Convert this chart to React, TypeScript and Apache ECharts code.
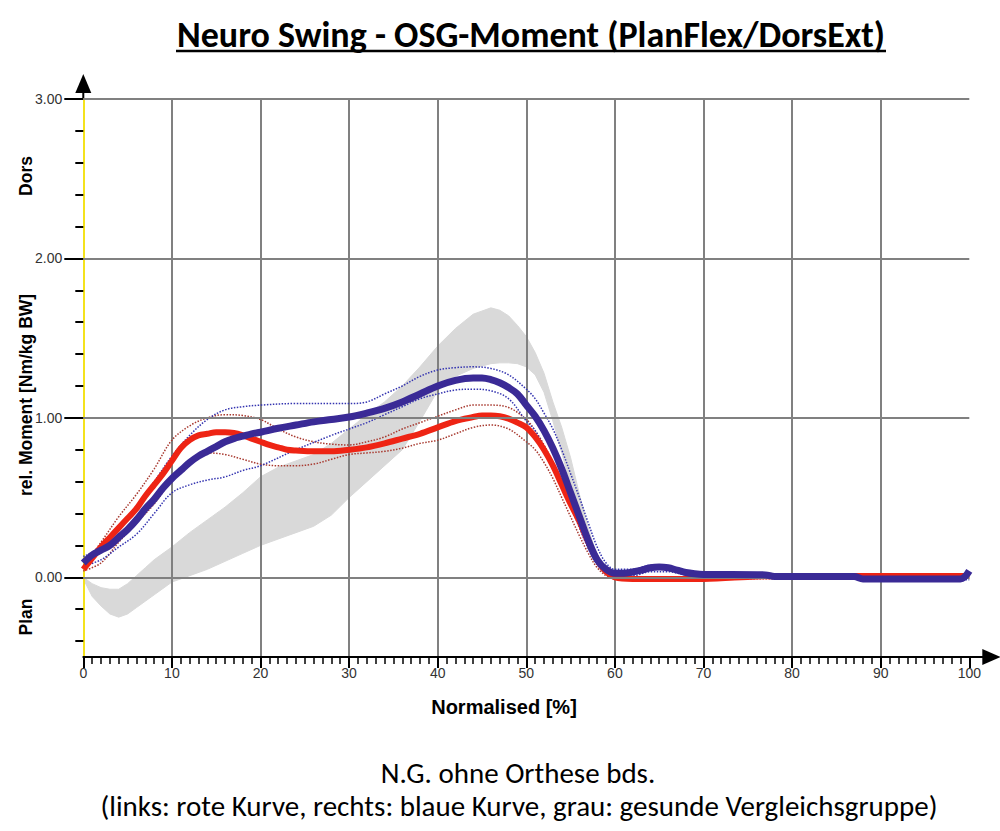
import React, { useEffect, useRef } from "react";
import * as echarts from "echarts";

// ---------- data ----------
const xTickInterval = 10;
const yLabelValues = [0, 1, 2, 3];
const yMinorTickValues = [-0.4, -0.2, 0, 0.2, 0.4, 0.6, 0.8, 1, 1.2, 1.4, 1.6, 1.8, 2, 2.2, 2.4, 2.6, 2.8, 3];

// healthy comparison group (grey band)
const grayX = [0, 1, 2, 3, 4, 5, 6, 7, 8, 9, 10, 12, 14, 16, 18, 20, 22, 24, 26, 28, 30, 32, 34, 36, 38, 40, 42, 44, 46, 47, 48, 49, 50, 51, 52, 53, 54, 55, 56, 57, 58, 59, 60];
const grayUpper = [0, -0.04, -0.065, -0.075, -0.075, -0.04, 0.01, 0.06, 0.11, 0.15, 0.19, 0.28, 0.36, 0.44, 0.53, 0.63, 0.69, 0.73, 0.77, 0.84, 0.93, 1.02, 1.1, 1.2, 1.32, 1.45, 1.56, 1.65, 1.69, 1.675, 1.64, 1.58, 1.51, 1.41, 1.28, 1.1, 0.94, 0.75, 0.52, 0.31, 0.13, 0.03, 0];
const grayLower = [-0.01, -0.12, -0.18, -0.23, -0.25, -0.23, -0.19, -0.15, -0.11, -0.07, -0.03, 0.01, 0.05, 0.1, 0.15, 0.2, 0.24, 0.28, 0.32, 0.39, 0.5, 0.6, 0.7, 0.8, 0.98, 1.17, 1.26, 1.31, 1.34, 1.345, 1.345, 1.34, 1.32, 1.27, 1.16, 0.98, 0.78, 0.58, 0.4, 0.24, 0.1, 0.03, 0];

// left (red)
const redX = [0, 1, 2, 3, 4, 5, 6, 7, 8, 9, 10, 11, 12, 13, 14, 15, 16, 17, 18, 19, 20, 21, 22, 23, 24, 26, 28, 30, 32, 34, 36, 38, 40, 42, 44, 45, 46, 47, 48, 49, 50, 51, 52, 53, 54, 55, 56, 57, 58, 59, 60, 62, 65, 70, 76, 80, 90, 100];
const redY = [0.05, 0.12, 0.19, 0.25, 0.31, 0.37, 0.43, 0.51, 0.58, 0.65, 0.73, 0.81, 0.86, 0.89, 0.9, 0.91, 0.91, 0.905, 0.89, 0.87, 0.85, 0.83, 0.815, 0.8, 0.795, 0.79, 0.79, 0.8, 0.815, 0.84, 0.87, 0.9, 0.94, 0.98, 1.005, 1.015, 1.015, 1.01, 0.995, 0.97, 0.94, 0.88, 0.8, 0.7, 0.58, 0.46, 0.35, 0.22, 0.11, 0.035, 0, -0.01, -0.01, -0.01, 0.005, 0.008, 0.008, 0.008];
const redBandX = [0, 2, 4, 6, 8, 10, 12, 14, 16, 18, 20, 22, 24, 26, 28, 30, 32, 34, 36, 38, 40, 42, 44, 46, 48, 50, 51, 52, 53, 54, 55, 56, 57, 58, 59, 60, 70, 100];
const redUpperY = [0.07, 0.22, 0.38, 0.52, 0.68, 0.86, 0.95, 1.0, 1.02, 1.015, 0.99, 0.93, 0.88, 0.85, 0.835, 0.83, 0.85, 0.88, 0.93, 0.97, 1.01, 1.05, 1.08, 1.08, 1.065, 0.99, 0.92, 0.83, 0.72, 0.6, 0.47, 0.34, 0.2, 0.09, 0.02, 0, 0, 0];
const redLowerY = [0.04, 0.09, 0.22, 0.34, 0.46, 0.61, 0.72, 0.78, 0.77, 0.74, 0.71, 0.7, 0.7, 0.71, 0.74, 0.77, 0.78, 0.79, 0.81, 0.84, 0.86, 0.9, 0.94, 0.955, 0.93, 0.85, 0.8, 0.72, 0.62, 0.5, 0.38, 0.26, 0.15, 0.06, 0.01, -0.01, -0.01, 0];

// right (blue)
const blueX = [0, 1, 2, 3, 4, 5, 6, 7, 8, 9, 10, 11, 12, 13, 14, 15, 16, 17, 18, 19, 20, 22, 24, 26, 28, 30, 32, 34, 36, 38, 40, 42, 44, 45, 46, 47, 48, 49, 50, 51, 52, 53, 54, 55, 56, 57, 58, 59, 60, 61, 62, 63, 64, 65, 66, 67, 68, 69, 70, 77, 78, 87, 88, 99, 100];
const blueY = [0.09, 0.14, 0.17, 0.2, 0.25, 0.3, 0.36, 0.43, 0.49, 0.56, 0.62, 0.67, 0.72, 0.76, 0.79, 0.82, 0.85, 0.87, 0.885, 0.9, 0.91, 0.935, 0.955, 0.975, 0.99, 1.005, 1.03, 1.06, 1.1, 1.15, 1.2, 1.235, 1.25, 1.25, 1.24, 1.22, 1.19, 1.15, 1.08, 1.01, 0.92, 0.81, 0.68, 0.53, 0.38, 0.23, 0.11, 0.05, 0.025, 0.025, 0.033, 0.045, 0.06, 0.065, 0.06, 0.045, 0.03, 0.022, 0.018, 0.015, 0.005, 0.005, -0.01, -0.01, 0.04];
const blueBandX = [0, 2, 4, 6, 8, 10, 12, 14, 16, 18, 20, 24, 28, 30, 32, 34, 36, 38, 40, 42, 44, 46, 48, 50, 51, 52, 53, 54, 55, 56, 57, 58, 59, 60, 62, 64, 66, 68, 70, 100];
const blueUpperY = [0.13, 0.19, 0.31, 0.45, 0.6, 0.76, 0.89, 0.99, 1.05, 1.07, 1.08, 1.09, 1.09, 1.09, 1.1, 1.15, 1.2, 1.26, 1.3, 1.315, 1.32, 1.31, 1.27, 1.18, 1.12, 1.03, 0.93, 0.8, 0.65, 0.5, 0.34, 0.19, 0.09, 0.05, 0.05, 0.075, 0.07, 0.04, 0.02, 0.01];
const blueLowerY = [0.07, 0.11, 0.19, 0.27, 0.4, 0.53, 0.58, 0.61, 0.63, 0.67, 0.7, 0.8, 0.89, 0.93, 0.97, 1.02, 1.07, 1.12, 1.15, 1.175, 1.18, 1.17, 1.12, 0.98, 0.92, 0.82, 0.72, 0.6, 0.45, 0.31, 0.18, 0.08, 0.02, 0.01, 0.01, 0.035, 0.035, 0.015, 0.01, -0.015];

// yellow zero line at the end
const yellowX = [68, 100];
const yellowY = [0, 0];

const zip = (xs: number[], ys: number[]) => xs.map((x, i) => [x, ys[i]]);

const ARIAL = "'Liberation Sans', Arial, sans-serif";
const CAL = "Carlito, 'Open Sans', sans-serif";

export default function App() {
  const ref = useRef<HTMLDivElement>(null);

  useEffect(() => {
    document.body.style.margin = "0";
    const chart = echarts.init(ref.current!, null, { renderer: "svg" });

    const dotted = (name: string, xs: number[], ys: number[], color: string) => ({
      name,
      type: "line",
      data: zip(xs, ys),
      showSymbol: false,
      symbol: "none",
      smooth: 0.35,
      z: 3,
      lineStyle: { color, width: 1.5, type: "dotted" },
    });

    const option: any = {
      animation: false,
      backgroundColor: "#ffffff",
      grid: { left: 83.3, right: 30.7, top: 99, bottom: 174, containLabel: false },
      xAxis: {
        type: "value",
        min: 0,
        max: 100,
        interval: xTickInterval,
        axisLine: { show: true, onZero: false, lineStyle: { color: "#000", width: 2 } },
        axisTick: { show: true, length: 11, lineStyle: { color: "#000", width: 2 } },
        minorTick: { show: true, splitNumber: 10, length: 7, lineStyle: { color: "#000", width: 1.5 } },
        axisLabel: { color: "#333", fontSize: 14, fontFamily: ARIAL, margin: 9 },
        splitLine: { show: true, showMinLine: false, showMaxLine: false, lineStyle: { color: "#808080", width: 2 } },
      },
      yAxis: [
        {
          type: "value",
          min: -0.5,
          max: 3,
          position: "left",
          axisLine: { show: true, onZero: false, lineStyle: { color: "#f4e21c", width: 2 } },
          axisTick: { show: true, customValues: yMinorTickValues, length: 8, lineStyle: { color: "#000", width: 2 } },
          axisLabel: { show: false },
          splitLine: { show: false },
        },
        {
          type: "value",
          min: -0.5,
          max: 3,
          position: "left",
          axisLine: { show: false },
          axisTick: { show: true, customValues: yLabelValues, length: 19, lineStyle: { color: "#000", width: 2 } },
          axisLabel: {
            show: true,
            customValues: yLabelValues,
            formatter: (v: number) => Number(v).toFixed(2),
            color: "#333",
            fontSize: 14,
            fontFamily: ARIAL,
            margin: 21,
          },
          splitLine: { show: false },
        },
      ],
      series: [
        {
          name: "grau",
          type: "custom",
          z: -1,
          silent: true,
          data: grayX.map((x, i) => [x, grayLower[i], grayUpper[i]]),
          encode: { x: 0, y: [1, 2] },
          renderItem: (params: any, api: any) => {
            if (params.dataIndex !== 0) return null;
            const pts: number[][] = [];
            for (let i = 0; i < grayX.length; i++) pts.push(api.coord([grayX[i], grayUpper[i]]));
            for (let i = grayX.length - 1; i >= 0; i--) pts.push(api.coord([grayX[i], grayLower[i]]));
            return { type: "polygon", shape: { points: pts }, style: { fill: "#d9d9d9", stroke: "#d9d9d9", lineWidth: 1 } };
          },
        },
        {
          name: "grid",
          type: "line",
          data: [],
          z: 0.5,
          silent: true,
          markLine: {
            silent: true,
            symbol: ["none", "none"],
            label: { show: false },
            lineStyle: { color: "#808080", width: 2, type: "solid" },
            data: yLabelValues.map((v) => ({ yAxis: v })),
          },
        },
        {
          name: "gelb",
          type: "line",
          data: zip(yellowX, yellowY),
          showSymbol: false,
          symbol: "none",
          z: 2,
          lineStyle: { color: "#f4e21c", width: 3 },
        },
        dotted("rot +", redBandX, redUpperY, "#a83a30"),
        dotted("rot -", redBandX, redLowerY, "#a83a30"),
        dotted("blau +", blueBandX, blueUpperY, "#3434b0"),
        dotted("blau -", blueBandX, blueLowerY, "#3434b0"),
        {
          name: "links",
          type: "line",
          data: zip(redX, redY),
          showSymbol: false,
          symbol: "none",
          smooth: 0.35,
          z: 4,
          lineStyle: { color: "#ee2414", width: 6 },
        },
        {
          name: "rechts",
          type: "line",
          data: zip(blueX, blueY),
          showSymbol: false,
          symbol: "none",
          smooth: 0.35,
          z: 5,
          lineStyle: { color: "#3a2a96", width: 7 },
        },
      ],
    };

    chart.setOption(option);

    const [ax, ayTop] = chart.convertToPixel({ gridIndex: 0 }, [0, 3]) as number[];
    const [axRight, ayBottom] = chart.convertToPixel({ gridIndex: 0 }, [100, -0.5]) as number[];

    const centeredText = (text: string, x: number, y: number, font: string, rot = 0) => ({
      type: "text",
      x,
      y,
      rotation: rot,
      silent: true,
      style: {
        text,
        fill: "#000",
        font,
        align: "center",
        verticalAlign: "middle",
        textAlign: "center",
        textVerticalAlign: "middle",
      },
    });

    chart.setOption({
      graphic: [
        // title
        centeredText("Neuro Swing - OSG-Moment (PlanFlex/DorsExt)", 531, 35, `bold 36px ${CAL}`),
        { type: "line", silent: true, shape: { x1: 176, y1: 51, x2: 886, y2: 51 }, style: { stroke: "#000", lineWidth: 2.5 } },
        // y axis arrow
        { type: "line", silent: true, shape: { x1: ax, y1: ayTop, x2: ax, y2: ayTop - 8 }, style: { stroke: "#000", lineWidth: 2 } },
        {
          type: "polygon",
          silent: true,
          shape: { points: [[ax, ayTop - 25], [ax - 8, ayTop - 6], [ax + 8, ayTop - 6]] },
          style: { fill: "#000" },
        },
        // x axis arrow
        { type: "line", silent: true, shape: { x1: axRight, y1: ayBottom, x2: axRight + 16, y2: ayBottom }, style: { stroke: "#000", lineWidth: 2 } },
        {
          type: "polygon",
          silent: true,
          shape: { points: [[axRight + 31, ayBottom], [axRight + 13, ayBottom - 8], [axRight + 13, ayBottom + 8]] },
          style: { fill: "#000" },
        },
        // axis names
        centeredText("rel. Moment [Nm/kg BW]", 26, 395, `bold 17.5px ${ARIAL}`, Math.PI / 2),
        centeredText("Dors", 26, 176, `bold 17.5px ${ARIAL}`, Math.PI / 2),
        centeredText("Plan", 26, 617, `bold 17.5px ${ARIAL}`, Math.PI / 2),
        centeredText("Normalised [%]", 504, 707, `bold 20px ${ARIAL}`),
        // caption
        centeredText("N.G. ohne Orthese bds.", 518, 773, `29px ${CAL}`),
        centeredText("(links: rote Kurve, rechts: blaue Kurve, grau: gesunde Vergleichsgruppe)", 519, 806, `29px ${CAL}`),
      ],
    });

    return () => chart.dispose();
  }, []);

  return <div ref={ref} style={{ width: 1000, height: 831 }} />;
}
